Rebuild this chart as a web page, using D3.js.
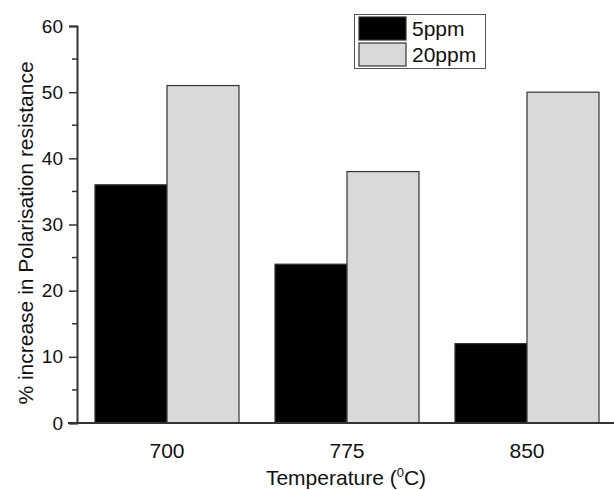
<!DOCTYPE html>
<html>
<head>
<meta charset="utf-8">
<script src="https://cdn.jsdelivr.net/npm/d3@7"></script>
<style>
body { margin: 0; background: #fff; }
text { font-family: "Liberation Sans", Arial, sans-serif; fill: #111; }
</style>
</head>
<body>
<div id="chart"></div>
<script>
// data
const temps = ["700", "775", "850"]
const series = ["5ppm", "20ppm"]
const vals_5ppm = [36, 24, 12]
const vals_20ppm = [51, 38, 50]
const y_ticks = [0, 10, 20, 30, 40, 50, 60]
const y_minor = [5, 15, 25, 35, 45, 55]

const colors = {"5ppm": "#000000", "20ppm": "#d9d9d9"}

const W = 614, H = 490

const svg = d3.select("#chart")
	.append("svg")
	.attr("width", W)
	.attr("height", H)

const x = d3.scaleBand()
	.domain(temps)
	.range([77, 617])
	.paddingInner(0.2)
	.paddingOuter(0.1)

const x_inner = d3.scaleBand()
	.domain(series)
	.range([0, x.bandwidth()])

const y = d3.scaleLinear()
	.domain([0, 60])
	.range([423, 26])

const rows = temps.map((t, i) => ({temp: t, "5ppm": vals_5ppm[i], "20ppm": vals_20ppm[i]}))

// bars
const groups = svg.selectAll("g.grp")
	.data(rows)
	.enter()
	.append("g")
	.attr("class", "grp")
	.attr("transform", d => "translate(" + x(d.temp) + ",0)")

groups.selectAll("rect")
	.data(d => series.map(s => ({key: s, value: d[s]})))
	.enter()
	.append("rect")
	.attr("x", d => x_inner(d.key))
	.attr("y", d => y(d.value))
	.attr("width", x_inner.bandwidth())
	.attr("height", d => y(0) - y(d.value))
	.attr("fill", d => colors[d.key])
	.attr("stroke", "#333")
	.attr("stroke-width", 1.2)

// y axis
const y_axis = svg.append("g")
	.attr("transform", "translate(77,0)")
	.call(d3.axisLeft(y).tickValues(y_ticks).tickSize(8).tickPadding(6))
y_axis.select(".domain").attr("stroke", "#333").attr("stroke-width", 2)
y_axis.selectAll(".tick line").attr("stroke", "#333").attr("stroke-width", 1.5)
y_axis.selectAll(".tick text").style("font-size", "19px").attr("fill", "#111")

svg.selectAll("line.minor")
	.data(y_minor)
	.enter()
	.append("line")
	.attr("class", "minor")
	.attr("x1", 72)
	.attr("x2", 77)
	.attr("y1", d => y(d))
	.attr("y2", d => y(d))
	.attr("stroke", "#333")
	.attr("stroke-width", 1.5)

// x axis
svg.append("line")
	.attr("x1", 68)
	.attr("x2", 614)
	.attr("y1", y(0))
	.attr("y2", y(0))
	.attr("stroke", "#333")
	.attr("stroke-width", 2)

svg.selectAll("text.xlab")
	.data(temps)
	.enter()
	.append("text")
	.attr("class", "xlab")
	.attr("x", d => x(d) + x.bandwidth() / 2)
	.attr("y", 458)
	.attr("text-anchor", "middle")
	.style("font-size", "21px")
	.text(d => d)

// axis titles
const xt = svg.append("text")
	.attr("x", 346)
	.attr("y", 485)
	.attr("text-anchor", "middle")
	.style("font-size", "21px")
xt.append("tspan").text("Temperature (")
xt.append("tspan").attr("dy", -8).style("font-size", "13px").text("0")
xt.append("tspan").attr("dy", 8).text("C)")

svg.append("text")
	.attr("transform", "translate(33,233) rotate(-90)")
	.attr("text-anchor", "middle")
	.style("font-size", "21px")
	.text("% increase in Polarisation resistance")

// legend
svg.append("rect")
	.attr("x", 354.5)
	.attr("y", 14.5)
	.attr("width", 131)
	.attr("height", 54)
	.attr("fill", "#fff")
	.attr("stroke", "#555")
	.attr("stroke-width", 1)

series.forEach((s, i) => {
	svg.append("rect")
		.attr("x", 359)
		.attr("y", 17 + i * 26)
		.attr("width", 47)
		.attr("height", 23)
		.attr("fill", colors[s])
		.attr("stroke", "#333")
		.attr("stroke-width", 1.2)
	svg.append("text")
		.attr("x", 412)
		.attr("y", 36 + i * 26)
		.style("font-size", "21px")
		.text(s)
})
</script>
</body>
</html>
